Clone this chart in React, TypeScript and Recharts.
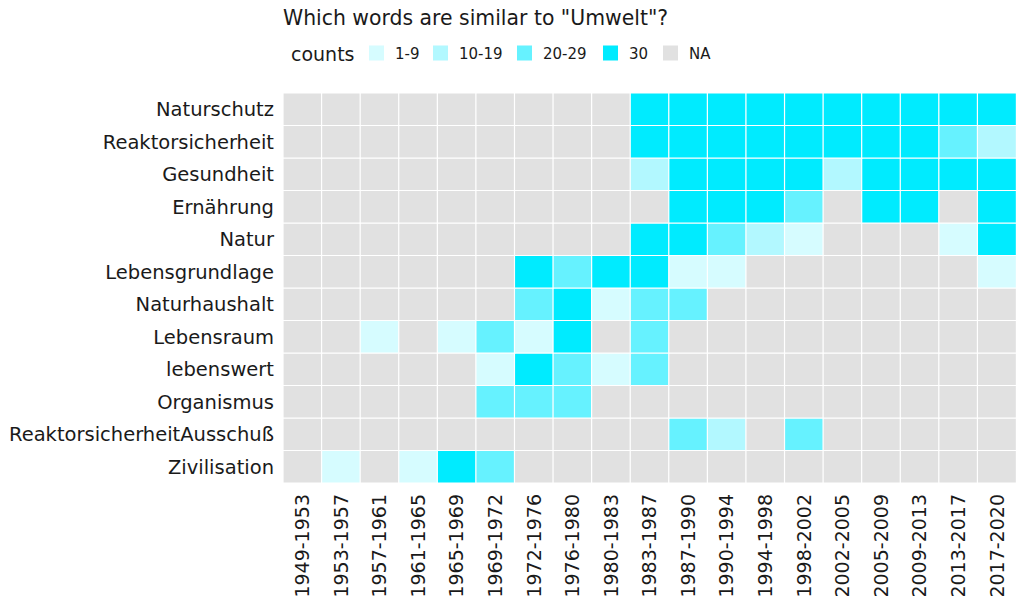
import React from 'react';
import { BarChart, Bar, Cell, XAxis, YAxis } from 'recharts';

// legislative periods (columns)
const periods = [
  '1949-1953', '1953-1957', '1957-1961', '1961-1965', '1965-1969',
  '1969-1972', '1972-1976', '1976-1980', '1980-1983', '1983-1987',
  '1987-1990', '1990-1994', '1994-1998', '1998-2002', '2002-2005',
  '2005-2009', '2009-2013', '2013-2017', '2017-2020',
];

// words (rows, top to bottom)
const words = [
  'Naturschutz', 'Reaktorsicherheit', 'Gesundheit', 'Ernährung', 'Natur',
  'Lebensgrundlage', 'Naturhaushalt', 'Lebensraum', 'lebenswert',
  'Organismus', 'ReaktorsicherheitAusschuß', 'Zivilisation',
];

const buckets = ['1-9', '10-19', '20-29', '30', 'NA'];
const bucketColors = ['#D6FCFF', '#B2F8FF', '#66F2FF', '#00EBFF', '#E1E1E1'];

// count bucket per period, one list per word
const naturschutz = ['NA', 'NA', 'NA', 'NA', 'NA', 'NA', 'NA', 'NA', 'NA', '30', '30', '30', '30', '30', '30', '30', '30', '30', '30'];
const reaktorsicherheit = ['NA', 'NA', 'NA', 'NA', 'NA', 'NA', 'NA', 'NA', 'NA', '30', '30', '30', '30', '30', '30', '30', '30', '20-29', '10-19'];
const gesundheit = ['NA', 'NA', 'NA', 'NA', 'NA', 'NA', 'NA', 'NA', 'NA', '10-19', '30', '30', '30', '30', '10-19', '30', '30', '30', '30'];
const ernaehrung = ['NA', 'NA', 'NA', 'NA', 'NA', 'NA', 'NA', 'NA', 'NA', 'NA', '30', '30', '30', '20-29', 'NA', '30', '30', 'NA', '30'];
const natur = ['NA', 'NA', 'NA', 'NA', 'NA', 'NA', 'NA', 'NA', 'NA', '30', '30', '20-29', '10-19', '1-9', 'NA', 'NA', 'NA', '1-9', '30'];
const lebensgrundlage = ['NA', 'NA', 'NA', 'NA', 'NA', 'NA', '30', '20-29', '30', '30', '1-9', '1-9', 'NA', 'NA', 'NA', 'NA', 'NA', 'NA', '1-9'];
const naturhaushalt = ['NA', 'NA', 'NA', 'NA', 'NA', 'NA', '20-29', '30', '1-9', '20-29', '20-29', 'NA', 'NA', 'NA', 'NA', 'NA', 'NA', 'NA', 'NA'];
const lebensraum = ['NA', 'NA', '1-9', 'NA', '1-9', '20-29', '1-9', '30', 'NA', '20-29', 'NA', 'NA', 'NA', 'NA', 'NA', 'NA', 'NA', 'NA', 'NA'];
const lebenswert = ['NA', 'NA', 'NA', 'NA', 'NA', '1-9', '30', '20-29', '1-9', '20-29', 'NA', 'NA', 'NA', 'NA', 'NA', 'NA', 'NA', 'NA', 'NA'];
const organismus = ['NA', 'NA', 'NA', 'NA', 'NA', '20-29', '20-29', '20-29', 'NA', 'NA', 'NA', 'NA', 'NA', 'NA', 'NA', 'NA', 'NA', 'NA', 'NA'];
const reaktorAusschuss = ['NA', 'NA', 'NA', 'NA', 'NA', 'NA', 'NA', 'NA', 'NA', 'NA', '20-29', '10-19', 'NA', '20-29', 'NA', 'NA', 'NA', 'NA', 'NA'];
const zivilisation = ['NA', '1-9', 'NA', '1-9', '30', '20-29', 'NA', 'NA', 'NA', 'NA', 'NA', 'NA', 'NA', 'NA', 'NA', 'NA', 'NA', 'NA', 'NA'];

const cells: Record<string, string[]> = {
  Naturschutz: naturschutz,
  Reaktorsicherheit: reaktorsicherheit,
  Gesundheit: gesundheit,
  'Ernährung': ernaehrung,
  Natur: natur,
  Lebensgrundlage: lebensgrundlage,
  Naturhaushalt: naturhaushalt,
  Lebensraum: lebensraum,
  lebenswert: lebenswert,
  Organismus: organismus,
  'ReaktorsicherheitAusschuß': reaktorAusschuss,
  Zivilisation: zivilisation,
};

const FONT = '"DejaVu Sans", sans-serif';
const INK = '#1a1a1a';
const legendX = [369, 433, 517, 603, 663];

// stacked from the bottom, so the first row of the picture is the last stack
const wordsBottomUp = [...words].reverse();

// every cell is one unit tall in its column
const tableRows = periods.map((period) => {
  const row: Record<string, string | number> = { period };
  words.forEach((w) => {
    row[w] = 1;
  });
  return row;
});

const colorOf = (bucket: string) => bucketColors[buckets.indexOf(bucket)];

const PeriodTick = ({ x, y, payload }: any) => (
  <text
    x={x}
    y={y}
    transform={`rotate(-90, ${x}, ${y})`}
    textAnchor="end"
    dy="0.36em"
    fontSize={19}
    fontFamily={FONT}
    fill={INK}
  >
    {payload.value}
  </text>
);

export default function App() {
  return (
    <div
      style={{
        position: 'absolute',
        left: 0,
        top: 0,
        width: 1024,
        height: 614,
        background: '#fff',
        fontFamily: FONT,
      }}
    >
      <BarChart
        width={1024}
        height={614}
        data={tableRows}
        barCategoryGap={0}
        margin={{ top: 93, right: 8, bottom: 11, left: 0 }}
      >
        <XAxis
          dataKey="period"
          interval={0}
          axisLine={false}
          tickLine={false}
          tickSize={0}
          tickMargin={11}
          height={120}
          tick={<PeriodTick />}
        />
        <YAxis
          type="number"
          domain={[0, words.length]}
          ticks={words.map((_, i) => i + 0.5)}
          interval={0}
          tickFormatter={(v: number) => wordsBottomUp[Math.floor(v)]}
          axisLine={false}
          tickLine={false}
          tickSize={0}
          tickMargin={9}
          width={283}
          tick={{ fontSize: 19.5, fill: INK, fontFamily: FONT }}
        />
        {wordsBottomUp.map((w) => (
          <Bar
            key={w}
            dataKey={w}
            stackId="grid"
            stroke="#fff"
            strokeWidth={1.2}
            isAnimationActive={false}
          >
            {periods.map((p, i) => (
              <Cell key={p} fill={colorOf(cells[w][i])} />
            ))}
          </Bar>
        ))}
      </BarChart>

      <svg
        width={1024}
        height={90}
        style={{ position: 'absolute', left: 0, top: 0, pointerEvents: 'none' }}
      >
        <text x={283} y={25} fontSize={20.4} fontFamily={FONT} fill={INK}>
          Which words are similar to "Umwelt"?
        </text>
        <text x={291} y={61} fontSize={19} fontFamily={FONT} fill={INK}>
          counts
        </text>
        {buckets.map((b, i) => (
          <g key={b}>
            <rect x={legendX[i]} y={45.5} width={15} height={15} fill={bucketColors[i]} />
            <text
              x={legendX[i] + 26}
              y={58.5}
              fontSize={15}
              fontFamily={FONT}
              fill={INK}
            >
              {b}
            </text>
          </g>
        ))}
      </svg>
    </div>
  );
}
